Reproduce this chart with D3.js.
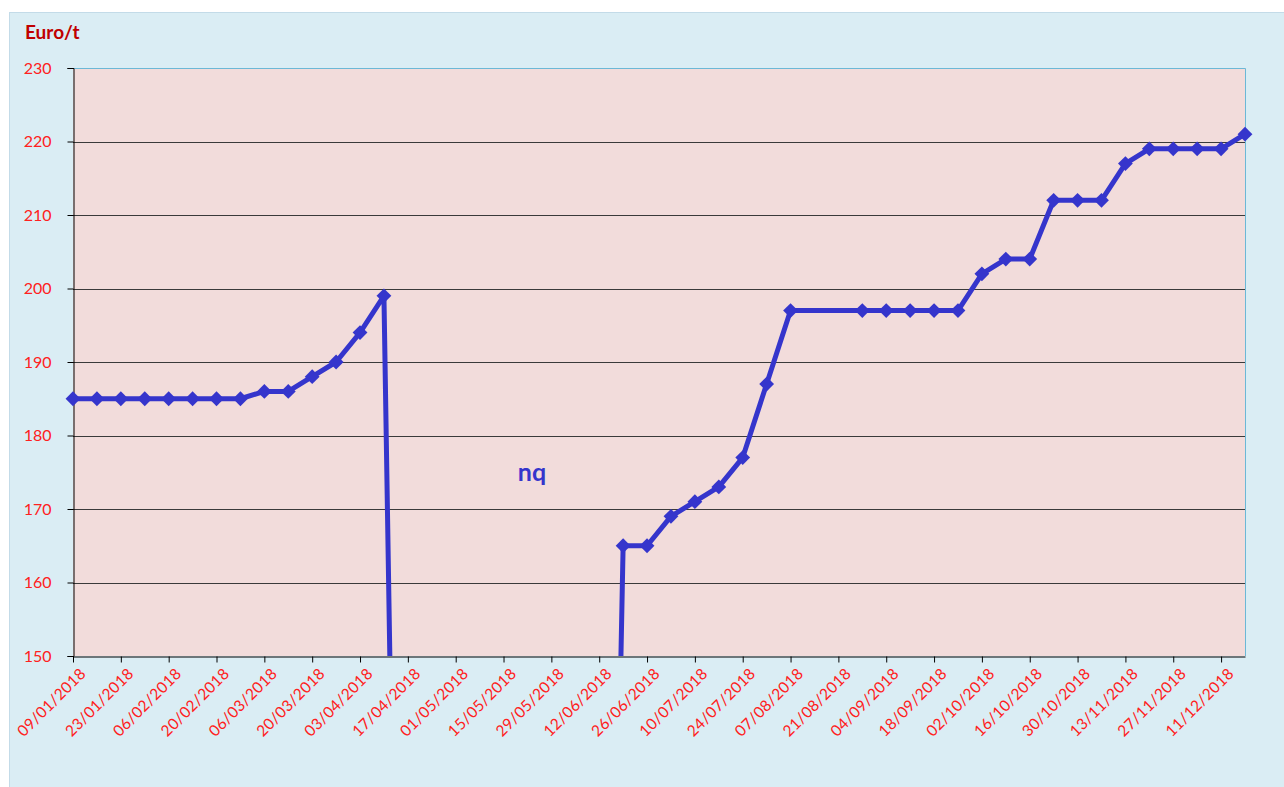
<!DOCTYPE html>
<html>
<head>
<meta charset="utf-8">
<script src="https://cdn.jsdelivr.net/npm/d3@7"></script>
<style>
    body { margin: 0; background: #ffffff; }
    svg text { font-family: Lato, "Open Sans", sans-serif; }
</style>
</head>
<body>
<div id="chart"></div>
<script>
// weekly quotes, Euro/t (0 = not quoted, 14/08 and 21/08 missing)
const dates = ["09/01/2018", "16/01/2018", "23/01/2018", "30/01/2018", "06/02/2018", "13/02/2018",
    "20/02/2018", "27/02/2018", "06/03/2018", "13/03/2018", "20/03/2018", "27/03/2018", "03/04/2018",
    "10/04/2018", "17/04/2018", "24/04/2018", "01/05/2018", "08/05/2018", "15/05/2018", "22/05/2018",
    "29/05/2018", "05/06/2018", "12/06/2018", "19/06/2018", "26/06/2018", "03/07/2018", "10/07/2018",
    "17/07/2018", "24/07/2018", "31/07/2018", "07/08/2018", "28/08/2018", "04/09/2018", "11/09/2018",
    "18/09/2018", "25/09/2018", "02/10/2018", "09/10/2018", "16/10/2018", "23/10/2018", "30/10/2018",
    "06/11/2018", "13/11/2018", "20/11/2018", "27/11/2018", "04/12/2018", "11/12/2018", "18/12/2018"];
const prices = [185, 185, 185, 185, 185, 185,
    185, 185, 186, 186, 188, 190, 194,
    199, 0, 0, 0, 0, 0, 0,
    0, 0, 0, 165, 165, 169, 171,
    173, 177, 187, 197, 197, 197, 197,
    197, 197, 202, 204, 204, 212, 212,
    212, 217, 219, 219, 219, 219, 221];
const tickLabels = ["09/01/2018", "23/01/2018", "06/02/2018", "20/02/2018", "06/03/2018", "20/03/2018",
    "03/04/2018", "17/04/2018", "01/05/2018", "15/05/2018", "29/05/2018", "12/06/2018", "26/06/2018",
    "10/07/2018", "24/07/2018", "07/08/2018", "21/08/2018", "04/09/2018", "18/09/2018", "02/10/2018",
    "16/10/2018", "30/10/2018", "13/11/2018", "27/11/2018", "11/12/2018"];
const yTicks = [150, 160, 170, 180, 190, 200, 210, 220, 230];

const W = 1284, H = 787;
const margin = {top: 68, right: 39, bottom: 131, left: 73};
const parse = d3.timeParse("%d/%m/%Y");

let data = dates.map((d, i) => ({date: parse(d), value: prices[i]}));

let svg = d3.select("#chart").append("svg")
    .attr("width", W)
    .attr("height", H);

// chart area background
svg.append("rect")
    .attr("x", 9.5).attr("y", 12.5)
    .attr("width", W - 9).attr("height", H - 12)
    .attr("fill", "#daedf4")
    .attr("stroke", "#c3dbe8");

let x = d3.scaleTime()
    .domain([parse("09/01/2018"), parse("18/12/2018")])
    .range([margin.left, W - margin.right]);

let y = d3.scaleLinear()
    .domain([150, 230])
    .range([H - margin.bottom, margin.top]);

// plot area
svg.append("rect")
    .attr("x", x.range()[0]).attr("y", y(230))
    .attr("width", x.range()[1] - x.range()[0])
    .attr("height", y(150) - y(230))
    .attr("fill", "#f2dcdb");

svg.append("clipPath").attr("id", "plotClip")
    .append("rect")
    .attr("x", x.range()[0] - 8).attr("y", y(230))
    .attr("width", x.range()[1] - x.range()[0] + 16)
    .attr("height", y(150) - y(230));

// gridlines
svg.append("g")
    .selectAll("line")
    .data(yTicks.filter(d => d > 150 && d < 230))
    .enter().append("line")
    .attr("x1", x.range()[0]).attr("x2", x.range()[1])
    .attr("y1", d => Math.round(y(d)) + 0.5).attr("y2", d => Math.round(y(d)) + 0.5)
    .attr("stroke", "#3a3a3a")
    .attr("stroke-width", 1);

// top & right border of plot area
svg.append("path")
    .attr("d", `M${x.range()[0]},${y(230) + 0.5}H${x.range()[1] + 0.5}V${y(150)}`)
    .attr("fill", "none")
    .attr("stroke", "#6cb8d6")
    .attr("stroke-width", 1);

// y axis
let yAxis = svg.append("g")
    .attr("transform", `translate(${x.range()[0] + 0.5},0)`)
    .call(d3.axisLeft(y).tickValues(yTicks).tickSize(6).tickPadding(8));
yAxis.select(".domain").attr("stroke", "#000");
yAxis.selectAll(".tick line").attr("stroke", "#000");
yAxis.selectAll("text")
    .attr("fill", "#ff2020")
    .style("font-size", "16px")
    .attr("dx", "-8px");

// x axis
let xAxis = svg.append("g")
    .attr("transform", `translate(0,${y(150) + 0.5})`)
    .call(d3.axisBottom(x).tickValues(tickLabels.map(parse)).tickSize(6).tickSizeOuter(0)
        .tickFormat(d3.timeFormat("%d/%m/%Y")));
xAxis.select(".domain").attr("stroke", "#000");
xAxis.selectAll(".tick line").attr("stroke", "#000");
xAxis.selectAll("text")
    .attr("fill", "#ff2020")
    .style("font-size", "15.5px")
    .style("letter-spacing", "0.3px")
    .style("text-anchor", "end")
    .attr("transform", "translate(3,8) rotate(-45)")
    .attr("dy", "0.35em");

// series
let line = d3.line()
    .x(d => x(d.date))
    .y(d => y(d.value));

let series = svg.append("g").attr("clip-path", "url(#plotClip)");

series.append("path")
    .datum(data)
    .attr("d", line)
    .attr("fill", "none")
    .attr("stroke", "#3535cc")
    .attr("stroke-width", 5)
    .attr("stroke-linejoin", "round");

series.selectAll(".marker")
    .data(data.filter(d => d.value >= 150))
    .enter().append("path")
    .attr("class", "marker")
    .attr("d", d3.symbol(d3.symbolDiamond2, 140))
    .attr("transform", d => `translate(${x(d.date)},${y(d.value)})`)
    .attr("fill", "#3535cc");

// labels
svg.append("text")
    .attr("x", 25).attr("y", 39)
    .attr("fill", "#c00000")
    .style("font-size", "19px")
    .style("font-weight", "bold")
    .text("Euro/t");

svg.append("text")
    .attr("x", 532).attr("y", 481)
    .attr("text-anchor", "middle")
    .attr("fill", "#3535cc")
    .style("font-size", "25px")
    .style("font-weight", "bold")
    .text("nq");
</script>
</body>
</html>
